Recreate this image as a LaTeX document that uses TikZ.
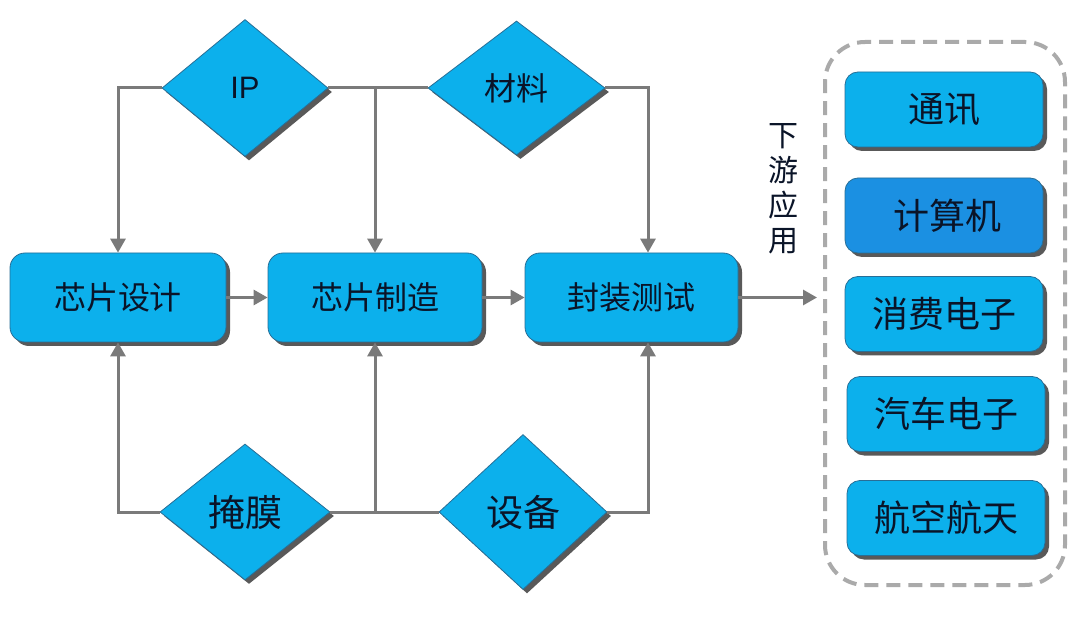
\documentclass[tikz,border=0pt]{standalone}
\usepackage{fontspec}
\setmainfont{Liberation Sans}
\newfontfamily\cjk{Noto Sans CJK SC}
\usetikzlibrary{shapes.geometric,arrows.meta,shadows}
\definecolor{boxfill}{RGB}{12,176,236}
\definecolor{boxdark}{RGB}{27,144,226}
\definecolor{boxedge}{RGB}{40,110,150}
\definecolor{linegray}{RGB}{122,122,122}
\definecolor{panelgray}{RGB}{170,170,170}
\definecolor{txt}{RGB}{10,20,40}
\tikzset{
  shad/.style={drop shadow={shadow xshift=4pt,shadow yshift=-4pt,fill=black,opacity=0.65}},
  procbox/.style={draw=boxedge,line width=0.8pt,fill=boxfill,rounded corners=15pt,
    minimum width=214pt,minimum height=89pt,inner sep=0pt,shad,text=txt,
    font=\cjk\fontsize{32}{38}\selectfont},
  appbox/.style={procbox,minimum width=198pt,minimum height=75pt,rounded corners=13pt,
    font=\cjk\fontsize{36}{42}\selectfont},
  dia/.style={diamond,draw=boxedge,line width=0.8pt,fill=boxfill,inner sep=0pt,
    minimum width=166pt,minimum height=137pt,shad,text=txt,
    font=\cjk\fontsize{32}{38}\selectfont},
  conn/.style={draw=linegray,line width=3pt},
  arr/.style={conn,-{Triangle[length=14pt,width=15pt]}},
  panel/.style={draw=panelgray,line width=4pt,dash pattern=on 14pt off 8pt,rounded corners=40pt},
}
\begin{document}
\begin{tikzpicture}[x=1pt,y=-1pt]
\useasboundingbox[fill=white] (0,0) rectangle (1080,631);
% process boxes
\node[procbox,minimum width=216pt] (b1) at (118,297.5) {芯片设计};
\node[procbox] (b2) at (375,297.5) {芯片制造};
\node[procbox,minimum width=213pt] (b3) at (631.5,297.5) {封装测试};
% diamonds
\node[dia,font=\fontsize{31}{36}\selectfont] (ip) at (245,88) {IP};
\node[dia,minimum width=177pt,minimum height=134pt] (ma) at (516.5,88) {材料};
\node[dia,minimum width=170pt,minimum height=136pt,font=\cjk\fontsize{37}{42}\selectfont] (ym) at (245,512) {掩膜};
\node[dia,minimum width=168pt,minimum height=155pt,font=\cjk\fontsize{37}{42}\selectfont] (sb) at (523,512) {设备};
\coordinate (c3) at (648,0);
% downstream panel
\node[panel,minimum width=240pt,minimum height=543pt,inner sep=0pt] (pn) at (945,313.5) {};
\node[appbox] (a1) at (944,109.5) {通讯};
\node[appbox,fill=boxdark] (a2) at (944,215.5) {\,计算机};
\node[appbox] (a3) at (944,314) {消费电子};
\node[appbox] (a4) at (946,414) {汽车电子};
\node[appbox] (a5) at (946,518) {航空航天};
\node[text=txt,font=\cjk\fontsize{30}{35}\selectfont,align=center,inner sep=0pt] (lbl) at (783,189) {下\\游\\应\\用};
% connectors top
\draw[arr] (ip.west) -| (b1.north);
\draw[conn] (ip.east) -- (ma.west);
\draw[arr] (ip.east -| b2.north) -- (b2.north);
\draw[arr] (ma.east) -| (b3.north -| c3);
% connectors bottom
\draw[arr] (ym.west) -| (b1.south);
\draw[conn] (ym.east) -- (sb.west);
\draw[arr] (ym.east -| b2.south) -- (b2.south);
\draw[arr] (sb.east) -| (b3.south -| c3);
% horizontal flow
\draw[arr] (b1.east) -- (b2.west);
\draw[arr] (b2.east) -- (b3.west);
\draw[arr,shorten >=6pt] (b3.east) -- (pn.west |- b3.east);
\end{tikzpicture}
\end{document}
